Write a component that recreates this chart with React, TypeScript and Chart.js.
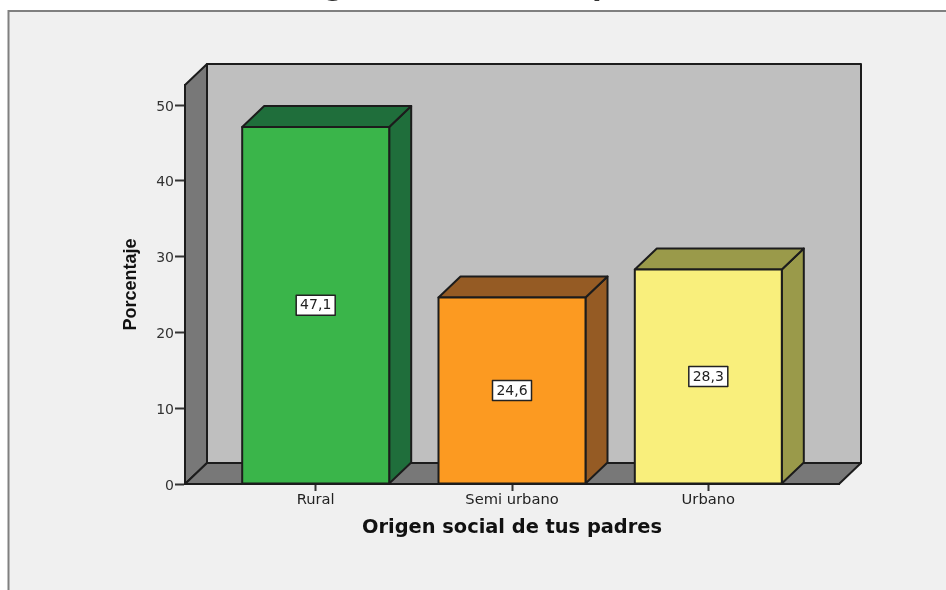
import React, { useEffect, useRef } from "react";
import { Chart, registerables } from "chart.js";

Chart.register(...registerables);

const categories = ["Rural", "Semi urbano", "Urbano"];
const percentages = [47.1, 24.6, 28.3];
const valueLabels = ["47,1", "24,6", "28,3"];
const frontColors = ["#3ab54a", "#fc9a21", "#f9ef7c"];
const sideColors = ["#1f6e3b", "#955b24", "#9a9a4a"];
const titleText = "Origen social de tus padres";
const yTitle = "Porcentaje";

const DX = 22;
const DY = -21;
const LINE = "#1c1c1c";

function poly(ctx: CanvasRenderingContext2D, pts: number[][], fill: string, stroke = LINE, lw = 2) {
  ctx.beginPath();
  pts.forEach((p, i) => (i ? ctx.lineTo(p[0], p[1]) : ctx.moveTo(p[0], p[1])));
  ctx.closePath();
  ctx.fillStyle = fill;
  ctx.fill();
  ctx.strokeStyle = stroke;
  ctx.lineWidth = lw;
  ctx.lineJoin = "round";
  ctx.stroke();
}

const scene = {
  id: "scene",
  beforeDraw(chart: any) {
    const { ctx, width, height } = chart;
    ctx.save();
    ctx.fillStyle = "#ffffff";
    ctx.fillRect(0, 0, width, height);
    ctx.fillStyle = "#f0f0f0";
    ctx.fillRect(8, 11, width, height);
    ctx.strokeStyle = "#808080";
    ctx.lineWidth = 2;
    ctx.beginPath();
    ctx.moveTo(8.5, height);
    ctx.lineTo(8.5, 11);
    ctx.lineTo(width, 11);
    ctx.stroke();
    ctx.fillStyle = "#333";
    ctx.font = "bold 27px 'DejaVu Sans'";
    ctx.textAlign = "center";
    ctx.textBaseline = "alphabetic";
    ctx.fillText(titleText, 488, -5);
    ctx.restore();
  },
  beforeDatasetsDraw(chart: any) {
    const { ctx, chartArea: a } = chart;
    const { left: l, right: r, top: t, bottom: b } = a;
    ctx.save();
    poly(ctx, [[l + DX, t + DY], [r + DX, t + DY], [r + DX, b + DY], [l + DX, b + DY]], "#bfbfbf");
    poly(ctx, [[l, t], [l + DX, t + DY], [l + DX, b + DY], [l, b]], "#787878");
    poly(ctx, [[l, b], [l + DX, b + DY], [r + DX, b + DY], [r, b]], "#787878");
    ctx.restore();
  },
  afterDatasetsDraw(chart: any) {
    const { ctx } = chart;
    const bars = chart.getDatasetMeta(0).data;
    ctx.save();
    bars.forEach((bar: any, i: number) => {
      const { x, y, base, width } = bar.getProps(["x", "y", "base", "width"], true);
      const x0 = x - width / 2;
      const x1 = x + width / 2;
      poly(ctx, [[x1, y], [x1 + DX, y + DY], [x1 + DX, base + DY], [x1, base]], sideColors[i]);
      poly(ctx, [[x0, y], [x0 + DX, y + DY], [x1 + DX, y + DY], [x1, y]], sideColors[i]);
      poly(ctx, [[x0, y], [x1, y], [x1, base], [x0, base]], frontColors[i]);
      const cy = (y + base) / 2;
      ctx.fillStyle = "#ffffff";
      ctx.strokeStyle = "#222222";
      ctx.lineWidth = 1.5;
      ctx.fillRect(x - 19.5, cy - 10, 39, 20);
      ctx.strokeRect(x - 19.5, cy - 10, 39, 20);
      ctx.fillStyle = "#222222";
      ctx.font = "14px 'DejaVu Sans'";
      ctx.textAlign = "center";
      ctx.textBaseline = "middle";
      ctx.fillText(valueLabels[i], x, cy + 0.5);
    });
    ctx.restore();
  },
};

export default function App() {
  const ref = useRef<HTMLCanvasElement>(null);
  useEffect(() => {
    const chart = new Chart(ref.current!, {
      type: "bar",
      data: {
        datasets: [
          {
            data: percentages.map((v, i) => ({ x: i, y: v })),
            backgroundColor: "rgba(0,0,0,0)",
            barThickness: 147,
          },
        ],
      },
      options: {
        animation: false,
        responsive: false,
        layout: { padding: { top: 85, right: 107, left: 0, bottom: 0 } },
        plugins: { legend: { display: false }, tooltip: { enabled: false } },
        scales: {
          x: {
            type: "linear",
            offset: false,
            min: -0.6658,
            max: 2.6658,
            afterFit: (s: any) => { s.height = 106; },
            border: { color: LINE, width: 2 },
            grid: { offset: false, drawOnChartArea: false, drawTicks: true, tickLength: 7, tickColor: "#333", tickWidth: 2 },
            ticks: {
              stepSize: 1,
              includeBounds: false,
              maxRotation: 0,
              autoSkip: false,
              padding: 0,
              color: "#222",
              font: { family: "'DejaVu Sans'", size: 14.7 },
              callback: (v: any) => categories[v] ?? "",
            },
            title: {
              display: true,
              text: titleText,
              color: "#111",
              font: { family: "'DejaVu Sans'", size: 19.4, weight: "bold" },
              padding: { top: 12, bottom: 50 },
            },
          },
          y: {
            min: 0,
            max: 52.64,
            afterFit: (s: any) => { s.width = 185; },
            border: { color: LINE, width: 2 },
            grid: { drawOnChartArea: false, drawTicks: true, tickLength: 10, tickColor: "#333", tickWidth: 2 },
            ticks: {
              stepSize: 10,
              includeBounds: false,
              padding: 1,
              labelOffset: 2,
              color: "#333",
              font: { family: "'DejaVu Sans'", size: 14 },
            },
            title: {
              display: true,
              text: yTitle,
              color: "#111",
              font: { family: "'Liberation Sans'", size: 18, weight: "bold" },
              padding: { top: 120, bottom: 0 },
            },
          },
        },
      } as any,
      plugins: [scene],
    });
    return () => chart.destroy();
  }, []);
  return <canvas ref={ref} width={946} height={590} style={{ position: "fixed", left: 0, top: 0, display: "block" }} />;
}
